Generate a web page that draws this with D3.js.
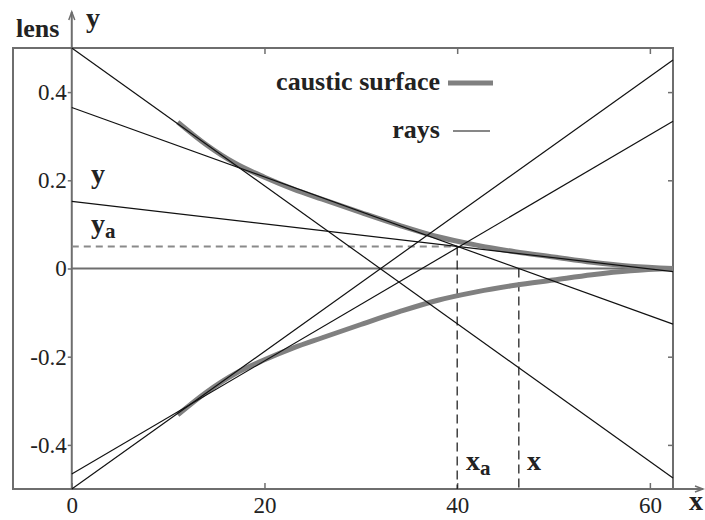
<!DOCTYPE html>
<html>
<head>
<meta charset="utf-8">
<script src="https://cdn.jsdelivr.net/npm/d3@7"></script>
<style>
  body { margin: 0; background: #fff; }
  svg text { font-family: "Liberation Serif", "Times New Roman", serif; }
</style>
</head>
<body>
<div id="chart"></div>
<script>
// caustic, upper branch (lower branch is the mirror image)
const causticX = [11, 14, 17, 20, 23, 26, 30, 34, 38, 42, 46, 50, 54, 58, 62.4];
const causticY = [0.332, 0.280, 0.238, 0.207, 0.180, 0.157, 0.127, 0.098, 0.072, 0.053, 0.038, 0.026, 0.014, 0.005, 0];

// rays from the lens (x = 0) to the right edge
const rayStartY = [0.5, 0.365, 0.152, -0.466, -0.5];
const rayEndY = [-0.475, -0.126, -0.007, 0.334, 0.473];

const xTicks = [0, 20, 40, 60];
const yTicks = [-0.4, -0.2, 0, 0.2, 0.4];
const yTickLabels = ['-0.4', '-0.2', '0', '0.2', '0.4'];

const xa = 40, ya = 0.05, xPoint = 46.4;

const width = 705, height = 520;
const xMin = -6.1, xMax = 62.4;

const x = d3.scaleLinear().domain([xMin, xMax]).range([13, 673]);
const y = d3.scaleLinear().domain([-0.5, 0.5]).range([489, 48]);

const svg = d3.select('#chart').append('svg')
    .attr('width', width)
    .attr('height', height);

const axisColor = '#6e6e6e';

// axes and frame
svg.append('rect')
    .attr('x', x(xMin)).attr('y', y(0.5))
    .attr('width', x(xMax) - x(xMin)).attr('height', y(-0.5) - y(0.5))
    .attr('fill', 'none').attr('stroke', axisColor).attr('stroke-width', 2);

svg.append('g')
    .attr('transform', `translate(0,${y(-0.5)})`)
    .call(d3.axisBottom(x).tickValues(xTicks).tickSizeInner(-6).tickSizeOuter(0).tickPadding(8))
    .call(g => g.select('.domain').remove())
    .call(g => g.selectAll('line').attr('stroke', axisColor).attr('stroke-width', 1.5))
    .call(g => g.selectAll('text').attr('fill', '#222').style('font-size', '23px'));

svg.append('g')
    .attr('transform', `translate(0,${y(0.5)})`)
    .call(d3.axisTop(x).tickValues(xTicks.slice(1)).tickSizeInner(-6).tickSizeOuter(0).tickFormat(''))
    .call(g => g.select('.domain').remove())
    .call(g => g.selectAll('line').attr('stroke', axisColor).attr('stroke-width', 1.5));

svg.append('g')
    .attr('transform', `translate(${x(0)},0)`)
    .call(d3.axisLeft(y).tickValues(yTicks).tickSizeInner(4).tickSizeOuter(0).tickPadding(1)
        .tickFormat((d, i) => yTickLabels[i]))
    .call(g => g.select('.domain').remove())
    .call(g => g.selectAll('line').attr('stroke', axisColor).attr('stroke-width', 1.5))
    .call(g => g.selectAll('text').attr('fill', '#222').style('font-size', '23px'));

svg.append('g')
    .attr('transform', `translate(${x(xMax)},0)`)
    .call(d3.axisRight(y).tickValues(yTicks).tickSizeInner(-5).tickSizeOuter(0).tickFormat(''))
    .call(g => g.select('.domain').remove())
    .call(g => g.selectAll('line').attr('stroke', axisColor).attr('stroke-width', 1.5));

// y axis line with arrow, bottom line with arrow, optical axis
svg.append('line')
    .attr('x1', x(0)).attr('x2', x(0)).attr('y1', y(-0.5)).attr('y2', 12)
    .attr('stroke', axisColor).attr('stroke-width', 2);
svg.append('path')
    .attr('d', `M${x(0) - 3},20 L${x(0)},12 L${x(0) + 3},20`)
    .attr('fill', 'none').attr('stroke', axisColor).attr('stroke-width', 1.5);
svg.append('line')
    .attr('x1', x(xMax)).attr('x2', 703).attr('y1', y(-0.5)).attr('y2', y(-0.5))
    .attr('stroke', axisColor).attr('stroke-width', 2);
svg.append('path')
    .attr('d', `M695,${y(-0.5) - 3} L703,${y(-0.5)} L695,${y(-0.5) + 3}`)
    .attr('fill', 'none').attr('stroke', axisColor).attr('stroke-width', 1.5);
svg.append('line')
    .attr('x1', x(0)).attr('x2', x(xMax)).attr('y1', y(0)).attr('y2', y(0))
    .attr('stroke', axisColor).attr('stroke-width', 2);

// dashed helper lines
svg.append('line')
    .attr('x1', x(0)).attr('x2', x(xa)).attr('y1', y(ya)).attr('y2', y(ya))
    .attr('stroke', '#8a8a8a').attr('stroke-width', 2).attr('stroke-dasharray', '7,5');
svg.append('line')
    .attr('x1', x(xa)).attr('x2', x(xa)).attr('y1', y(ya)).attr('y2', y(-0.5))
    .attr('stroke', '#111').attr('stroke-width', 1.2).attr('stroke-dasharray', '9,5');
svg.append('line')
    .attr('x1', x(xPoint)).attr('x2', x(xPoint)).attr('y1', y(0)).attr('y2', y(-0.5))
    .attr('stroke', '#111').attr('stroke-width', 1.2).attr('stroke-dasharray', '9,5');

// caustic
const line = d3.line().curve(d3.curveMonotoneX);
const upper = causticX.map((d, i) => [x(d), y(causticY[i])]);
const lower = causticX.map((d, i) => [x(d), y(-causticY[i])]);
svg.selectAll('.caustic')
    .data([upper, lower])
    .join('path')
    .attr('class', 'caustic')
    .attr('d', line)
    .attr('fill', 'none')
    .attr('stroke', '#808080')
    .attr('stroke-width', 5);

// rays
svg.selectAll('.ray')
    .data(rayStartY.map((d, i) => ({ y0: d, y1: rayEndY[i] })))
    .join('line')
    .attr('class', 'ray')
    .attr('x1', x(0)).attr('y1', d => y(d.y0))
    .attr('x2', x(xMax)).attr('y2', d => y(d.y1))
    .attr('stroke', '#111')
    .attr('stroke-width', 1.2);

// legend
svg.append('text').attr('x', 440).attr('y', 90).attr('text-anchor', 'end')
    .style('font-size', '26px').style('font-weight', 'bold').attr('fill', '#222')
    .text('caustic surface');
svg.append('line').attr('x1', 448).attr('x2', 493).attr('y1', 83).attr('y2', 83)
    .attr('stroke', '#808080').attr('stroke-width', 5);
svg.append('text').attr('x', 440).attr('y', 138).attr('text-anchor', 'end')
    .style('font-size', '26px').style('font-weight', 'bold').attr('fill', '#222')
    .text('rays');
svg.append('line').attr('x1', 453).attr('x2', 490).attr('y1', 131).attr('y2', 131)
    .attr('stroke', '#111').attr('stroke-width', 1.2);

// labels
const label = (tx, ty, main, sub, size) => {
    const t = svg.append('text').attr('x', tx).attr('y', ty)
        .style('font-size', size + 'px').style('font-weight', 'bold').attr('fill', '#222')
        .text(main);
    if (sub) t.append('tspan').attr('dy', 5).style('font-size', (size * 0.75) + 'px').text(sub);
};
label(16, 37, 'lens', null, 26);
label(86, 27, 'y', null, 28);
label(91, 183, 'y', null, 28);
label(91, 233, 'y', 'a', 28);
label(466, 470, 'x', 'a', 28);
label(527, 470, 'x', null, 28);
label(689, 510, 'x', null, 28);
</script>
</body>
</html>
